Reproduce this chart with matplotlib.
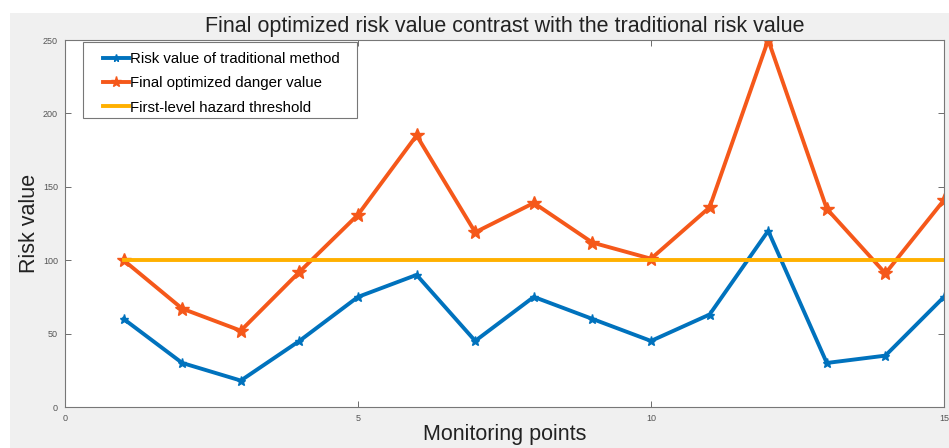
import matplotlib
matplotlib.use("Agg")
import matplotlib.pyplot as plt
from matplotlib.patches import Rectangle

# 数据
points = list(range(1, 16))
traditional = [60, 30, 18, 45, 75, 90, 45, 75, 60, 45, 63, 120, 30, 35, 75]
optimized = [100, 67, 52, 92, 131, 185, 119, 139, 112, 101, 136, 250, 135, 91, 141]
threshold = [100] * len(points)

xticks = [0, 5, 10, 15]
yticks = [0, 50, 100, 150, 200, 250]

plt.rcParams["font.family"] = ["Liberation Sans", "DejaVu Sans"]

fig = plt.figure(figsize=(9.49, 4.48), dpi=100)
fig.patch.set_facecolor("white")
# 灰色背景（MATLAB 风格）
fig.patches.append(Rectangle((10 / 949, 0), 1, 1 - 13 / 448, transform=fig.transFigure,
                             facecolor="#f0f0f0", edgecolor="none", zorder=-5))

ax = fig.add_axes([65 / 949, 41 / 448, 879 / 949, 367 / 448])
ax.set_facecolor("white")

ax.plot(points, traditional, color="#0072BD", lw=2.8, marker="*", ms=6.5,
        label="Risk value of traditional method")
ax.plot(points, optimized, color="#F5581A", lw=2.8, marker="*", ms=10,
        label="Final optimized danger value")
ax.plot(points, threshold, color="#FFB000", lw=2.8,
        label="First-level hazard threshold")

ax.set_xlim(0, 15)
ax.set_ylim(0, 250)
ax.set_xticks(xticks)
ax.set_yticks(yticks)
ax.tick_params(direction="in", length=4, width=0.6, colors="#555555", labelsize=6.5,
               top=True, right=True, pad=5)
for s in ax.spines.values():
    s.set_color("#777777")
    s.set_linewidth(0.8)

ax.set_title("Final optimized risk value contrast with the traditional risk value",
             fontsize=15.5, color="#222222", pad=6)
ax.set_xlabel("Monitoring points", fontsize=15.5, color="#222222", labelpad=1)
ax.set_ylabel("Risk value", fontsize=15.5, color="#222222", labelpad=2)

# 图例边框（MATLAB 风格，左右留白较宽）
ax.add_patch(Rectangle((0.0205, 0.7875), 0.3117, 0.207, transform=ax.transAxes,
                       facecolor="white", edgecolor="#777777", lw=0.8, zorder=4))
leg = ax.legend(loc="upper left", bbox_to_anchor=(0.0432, 0.967), borderaxespad=0,
                fontsize=10.8, frameon=False, handlelength=1.75, handletextpad=0.05,
                borderpad=0, labelspacing=0.68, markerscale=0.8)
leg.set_zorder(5)

fig.savefig("out.png", dpi=100)
